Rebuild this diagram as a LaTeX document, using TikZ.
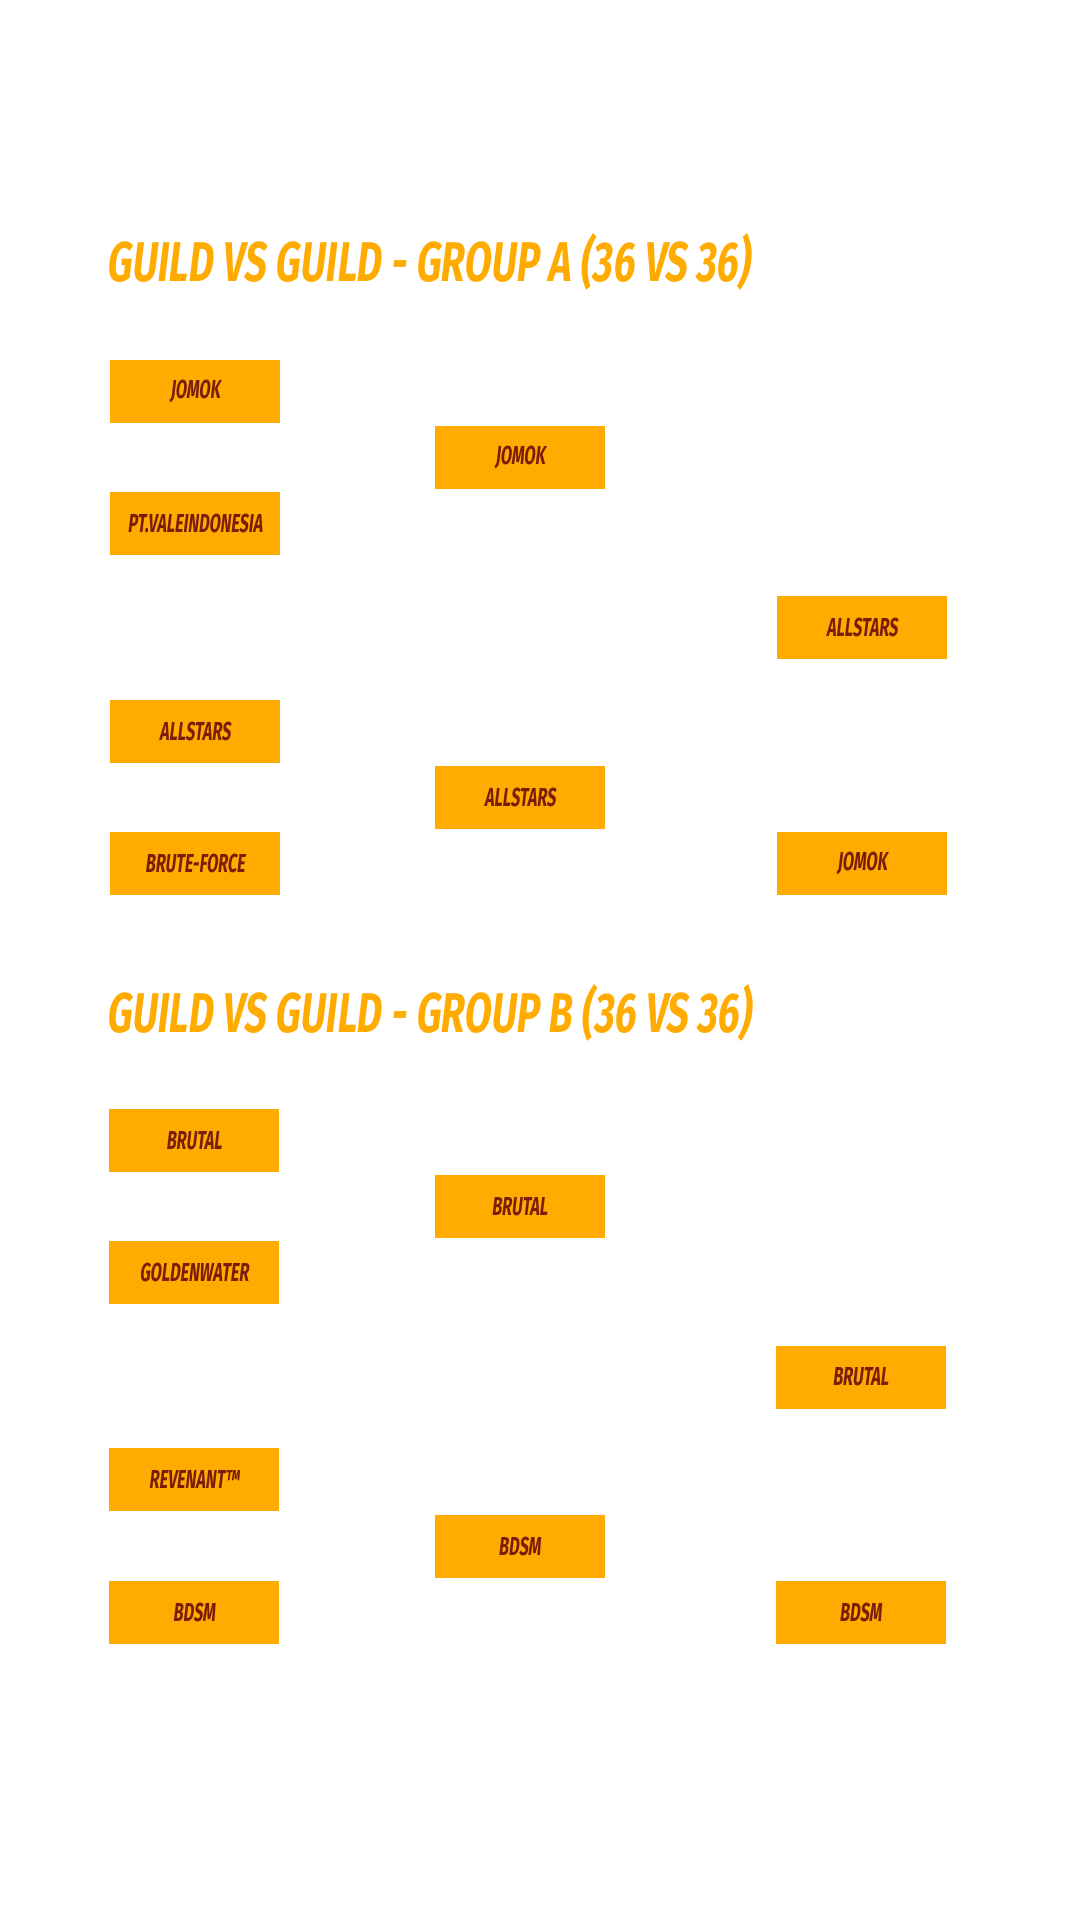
\documentclass[tikz,border=0pt]{standalone}
\usepackage{fontspec}
\usepackage{tikz}
\newfontfamily\brushfont[FakeStretch=0.69,FakeSlant=0.12]{Fira Sans}
\newfontfamily\boxfont[FakeStretch=0.62,FakeSlant=0.12]{Fira Sans}
\definecolor{BracketOrange}{RGB}{255,171,0}
\definecolor{BracketBrown}{RGB}{122,30,10}
\tikzset{
  team/.style={fill=BracketOrange,minimum width=85pt,minimum height=31.5pt,
    inner sep=0pt,text=BracketBrown,font=\boxfont\fontsize{13}{13}\selectfont\bfseries},
  grouptitle/.style={anchor=base west,inner sep=0pt,text=BracketOrange,
    font=\brushfont\fontsize{28}{28}\selectfont\bfseries}
}
\begin{document}
\begin{tikzpicture}[x=0.5pt,y=-0.5pt]
  \useasboundingbox[fill=white] (0,0) rectangle (1080,1920);
  % group A
  \node[grouptitle] (titleA) at (106,282) {GUILD VS GUILD - GROUP A (36 VS 36)};
  \node[team] (a1) at (195,391.5) {JOMOK};
  \node[team] (a2) at (195,523) {PT.VALEINDONESIA};
  \node[team] (a3) at (195,731.5) {ALLSTARS};
  \node[team] (a4) at (195,863.5) {BRUTE-FORCE};
  \node[team] (a12) at (520,457.5) {JOMOK};
  \node[team] (a34) at (520,797.5) {ALLSTARS};
  \node[team] (awin) at (862,627.5) {ALLSTARS};
  \node[team] (athird) at (862,863.5) {JOMOK};
  % group B
  \node[grouptitle] (titleB) at (106,1032) {GUILD VS GUILD - GROUP B (36 VS 36)};
  \node[team] (b1) at (194,1140.5) {BRUTAL};
  \node[team] (b2) at (194,1272.5) {GOLDENWATER};
  \node[team] (b3) at (194,1479.5) {REVENANT™};
  \node[team] (b4) at (194,1612.5) {BDSM};
  \node[team] (b12) at (519.5,1206.5) {BRUTAL};
  \node[team] (b34) at (519.5,1546) {BDSM};
  \node[team] (bwin) at (860.5,1377) {BRUTAL};
  \node[team] (bthird) at (860.5,1612) {BDSM};
\end{tikzpicture}
\end{document}
